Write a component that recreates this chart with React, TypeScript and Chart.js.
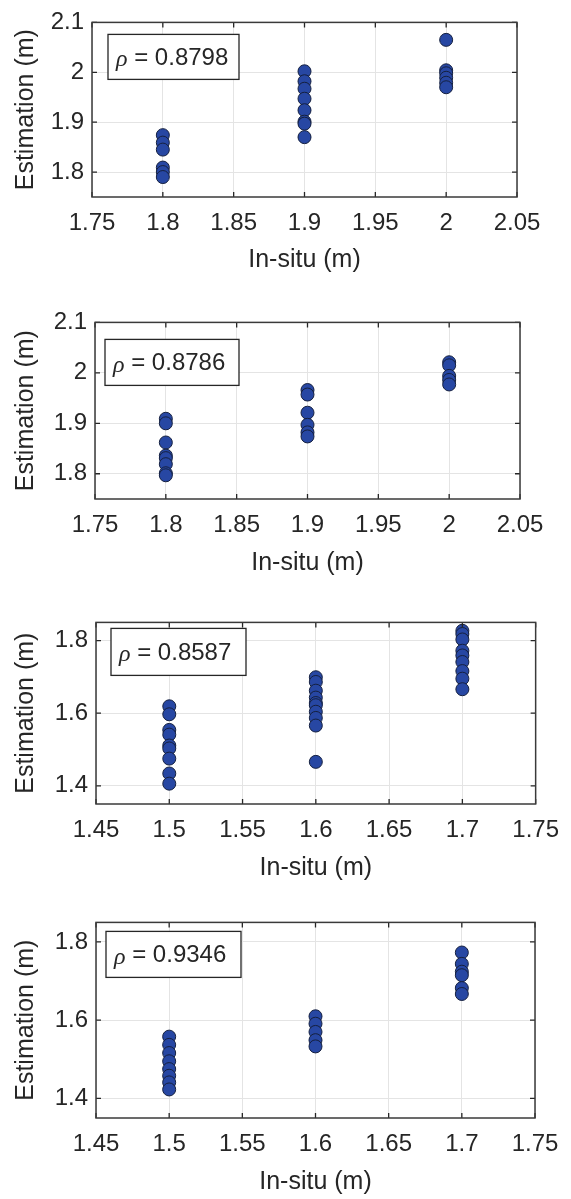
import React, { useEffect, useRef } from "react";
import { Chart, registerables } from "chart.js";

Chart.register(...registerables);

// ---------- DATA ----------
const p1InSitu = [1.8, 1.9, 2.0];
const p1Est18 = [1.874, 1.859, 1.845, 1.809, 1.8, 1.79];
const p1Est19 = [2.002, 1.982, 1.967, 1.947, 1.924, 1.901, 1.897, 1.87];
const p1Est20 = [2.065, 2.004, 1.998, 1.989, 1.979, 1.97];
const p1Rho = "0.8798";

const p2InSitu = [1.8, 1.9, 2.0];
const p2Est18 = [1.909, 1.9, 1.862, 1.836, 1.831, 1.819, 1.801, 1.797];
const p2Est19 = [1.966, 1.957, 1.921, 1.897, 1.882, 1.874];
const p2Est20 = [2.021, 2.015, 1.994, 1.986, 1.977];
const p2Rho = "0.8786";

const p3InSitu = [1.5, 1.6, 1.7];
const p3Est15 = [1.619, 1.597, 1.554, 1.541, 1.511, 1.503, 1.475, 1.434, 1.406];
const p3Est16 = [1.699, 1.686, 1.662, 1.643, 1.628, 1.622, 1.604, 1.587, 1.566, 1.466];
const p3Est17 = [1.827, 1.818, 1.803, 1.772, 1.759, 1.741, 1.716, 1.695, 1.666];
const p3Rho = "0.8587";

const p4InSitu = [1.5, 1.6, 1.7];
const p4Est15 = [1.558, 1.537, 1.516, 1.495, 1.475, 1.458, 1.441, 1.423];
const p4Est16 = [1.61, 1.591, 1.57, 1.549, 1.533];
const p4Est17 = [1.773, 1.744, 1.724, 1.715, 1.682, 1.667];
const p4Rho = "0.9346";

const xTicksA = [1.75, 1.8, 1.85, 1.9, 1.95, 2.0, 2.05];
const xTickLabelsA = ["1.75", "1.8", "1.85", "1.9", "1.95", "2", "2.05"];
const yTicksA = [1.8, 1.9, 2.0, 2.1];
const yTickLabelsA = ["1.8", "1.9", "2", "2.1"];

const xTicksB = [1.45, 1.5, 1.55, 1.6, 1.65, 1.7, 1.75];
const xTickLabelsB = ["1.45", "1.5", "1.55", "1.6", "1.65", "1.7", "1.75"];
const yTicksB = [1.4, 1.6, 1.8];
const yTickLabelsB = ["1.4", "1.6", "1.8"];

const xTitle = "In-situ (m)";
const yTitle = "Estimation (m)";

// ---------- PANEL DEFINITIONS ----------
const panelData = [
  { inSitu: p1InSitu, groups: [p1Est18, p1Est19, p1Est20], rho: p1Rho, xRange: [1.75, 2.05], yRange: [1.75, 2.1], xTicks: xTicksA, xLabels: xTickLabelsA, yTicks: yTicksA, yLabels: yTickLabelsA },
  { inSitu: p2InSitu, groups: [p2Est18, p2Est19, p2Est20], rho: p2Rho, xRange: [1.75, 2.05], yRange: [1.75, 2.1], xTicks: xTicksA, xLabels: xTickLabelsA, yTicks: yTicksA, yLabels: yTickLabelsA },
  { inSitu: p3InSitu, groups: [p3Est15, p3Est16, p3Est17], rho: p3Rho, xRange: [1.45, 1.75], yRange: [1.35, 1.85], xTicks: xTicksB, xLabels: xTickLabelsB, yTicks: yTicksB, yLabels: yTickLabelsB },
  { inSitu: p4InSitu, groups: [p4Est15, p4Est16, p4Est17], rho: p4Rho, xRange: [1.45, 1.75], yRange: [1.35, 1.85], xTicks: xTicksB, xLabels: xTickLabelsB, yTicks: yTicksB, yLabels: yTickLabelsB },
];

// layout (pixels): canvas top/height, plot box edges, text box
const panelLayout = [
  { top: 0, height: 300, left: 92, right: 517, plotTop: 11, plotBottom: 197, titleGap: 25, box: [16, 12, 131, 45] },
  { top: 300, height: 300, left: 95, right: 520, plotTop: 312, plotBottom: 499, titleGap: 22, box: [10, 17, 134, 46] },
  { top: 600, height: 300, left: 96, right: 536, plotTop: 613, plotBottom: 804, titleGap: 17, box: [15, 6, 135, 47] },
  { top: 900, height: 299, left: 96, right: 535, plotTop: 916, plotBottom: 1118, titleGap: 2, box: [10, 9, 135, 46] },
];

const TEXT = "#262626";
const FONT = "'Liberation Sans', Arial, sans-serif";

const framePlugin = {
  id: "matlabFrame",
  afterDraw(chart: any) {
    const { ctx, chartArea, scales } = chart;
    const { left, right, top, bottom } = chartArea;
    const xs = scales.x;
    const ys = scales.y;
    ctx.save();
    ctx.strokeStyle = TEXT;
    ctx.lineWidth = 1.3;
    const tl = 5;
    ctx.beginPath();
    xs.ticks.forEach((t: any) => {
      const px = xs.getPixelForValue(t.value);
      ctx.moveTo(px, bottom);
      ctx.lineTo(px, bottom - tl);
      ctx.moveTo(px, top);
      ctx.lineTo(px, top + tl);
    });
    ys.ticks.forEach((t: any) => {
      const py = ys.getPixelForValue(t.value);
      ctx.moveTo(left, py);
      ctx.lineTo(left + tl, py);
      ctx.moveTo(right, py);
      ctx.lineTo(right - tl, py);
    });
    ctx.stroke();
    ctx.strokeStyle = "#3a3a3a";
    ctx.lineWidth = 1.5;
    ctx.strokeRect(left, top, right - left, bottom - top);

    const box = chart.options.plugins.matlabFrame.box;
    const rho = chart.options.plugins.matlabFrame.rho;
    const bx = left + box[0];
    const by = top + box[1];
    ctx.fillStyle = "#ffffff";
    ctx.fillRect(bx, by, box[2], box[3]);
    ctx.strokeStyle = TEXT;
    ctx.lineWidth = 1.3;
    ctx.strokeRect(bx, by, box[2], box[3]);
    ctx.fillStyle = TEXT;
    ctx.textBaseline = "middle";
    ctx.textAlign = "left";
    const cy = by + box[3] / 2 + 1;
    ctx.font = "italic 24px 'Liberation Serif', 'DejaVu Serif', serif";
    ctx.fillText("\u03C1", bx + 8, cy + 2);
    const w = ctx.measureText("\u03C1").width;
    ctx.font = "24px " + FONT;
    ctx.fillText(" = " + rho, bx + 8 + w, cy);
    ctx.restore();
  },
};

function Panel({ idx }: { idx: number }) {
  const ref = useRef<HTMLCanvasElement | null>(null);
  const d = panelData[idx];
  const L = panelLayout[idx];
  useEffect(() => {
    if (!ref.current) return;
    const points: { x: number; y: number }[] = [];
    d.groups.forEach((g, gi) => g.forEach((v) => points.push({ x: d.inSitu[gi], y: v })));
    const chart = new Chart(ref.current, {
      type: "scatter",
      data: {
        datasets: [
          {
            data: points,
            pointRadius: 6.5,
            pointHoverRadius: 6.5,
            backgroundColor: "#2747a3",
            borderColor: "#15203f",
            borderWidth: 1,
          },
        ],
      },
      plugins: [framePlugin],
      options: {
        animation: false,
        responsive: false,
        events: [],
        layout: {
          padding: { top: L.plotTop - L.top, right: 571 - L.right, left: 0, bottom: 0 },
        },
        plugins: {
          legend: { display: false },
          tooltip: { enabled: false },
          // @ts-ignore
          matlabFrame: { box: L.box, rho: d.rho },
        },
        scales: {
          x: {
            type: "linear",
            min: d.xRange[0],
            max: d.xRange[1],
            afterBuildTicks: (s: any) => {
              s.ticks = d.xTicks.map((v) => ({ value: v }));
            },
            afterFit: (s: any) => {
              s.height = L.top + L.height - L.plotBottom;
            },
            ticks: {
              autoSkip: false,
              maxRotation: 0,
              padding: 12,
              color: TEXT,
              font: { family: FONT, size: 24 },
              callback: (v: any) => {
                const i = d.xTicks.findIndex((t) => Math.abs(t - v) < 1e-9);
                return i >= 0 ? d.xLabels[i] : "";
              },
            },
            grid: { color: "#e4e4e4", lineWidth: 1, drawTicks: false },
            border: { display: false },
            title: {
              display: true,
              text: xTitle,
              color: TEXT,
              font: { family: FONT, size: 25 },
              padding: { top: 0, bottom: L.titleGap },
            },
          },
          y: {
            type: "linear",
            min: d.yRange[0],
            max: d.yRange[1],
            afterBuildTicks: (s: any) => {
              s.ticks = d.yTicks.map((v) => ({ value: v }));
            },
            afterFit: (s: any) => {
              s.width = L.left;
            },
            ticks: {
              autoSkip: false,
              padding: 8,
              color: TEXT,
              font: { family: FONT, size: 24 },
              callback: (v: any) => {
                const i = d.yTicks.findIndex((t) => Math.abs(t - v) < 1e-9);
                return i >= 0 ? d.yLabels[i] : "";
              },
            },
            grid: { color: "#e4e4e4", lineWidth: 1, drawTicks: false },
            border: { display: false },
            title: {
              display: true,
              text: yTitle,
              color: TEXT,
              font: { family: FONT, size: 25 },
              padding: { top: 11, bottom: 0 },
            },
          },
        },
      },
    });
    return () => chart.destroy();
  }, []);
  return (
    <canvas
      ref={ref}
      width={571}
      height={L.height}
      style={{ position: "absolute", left: 0, top: L.top, width: 571, height: L.height }}
    />
  );
}

export default function App() {
  return (
    <div style={{ position: "absolute", left: 0, top: 0, width: 571, height: 1199, background: "#ffffff" }}>
      {panelData.map((_, i) => (
        <Panel key={i} idx={i} />
      ))}
    </div>
  );
}
